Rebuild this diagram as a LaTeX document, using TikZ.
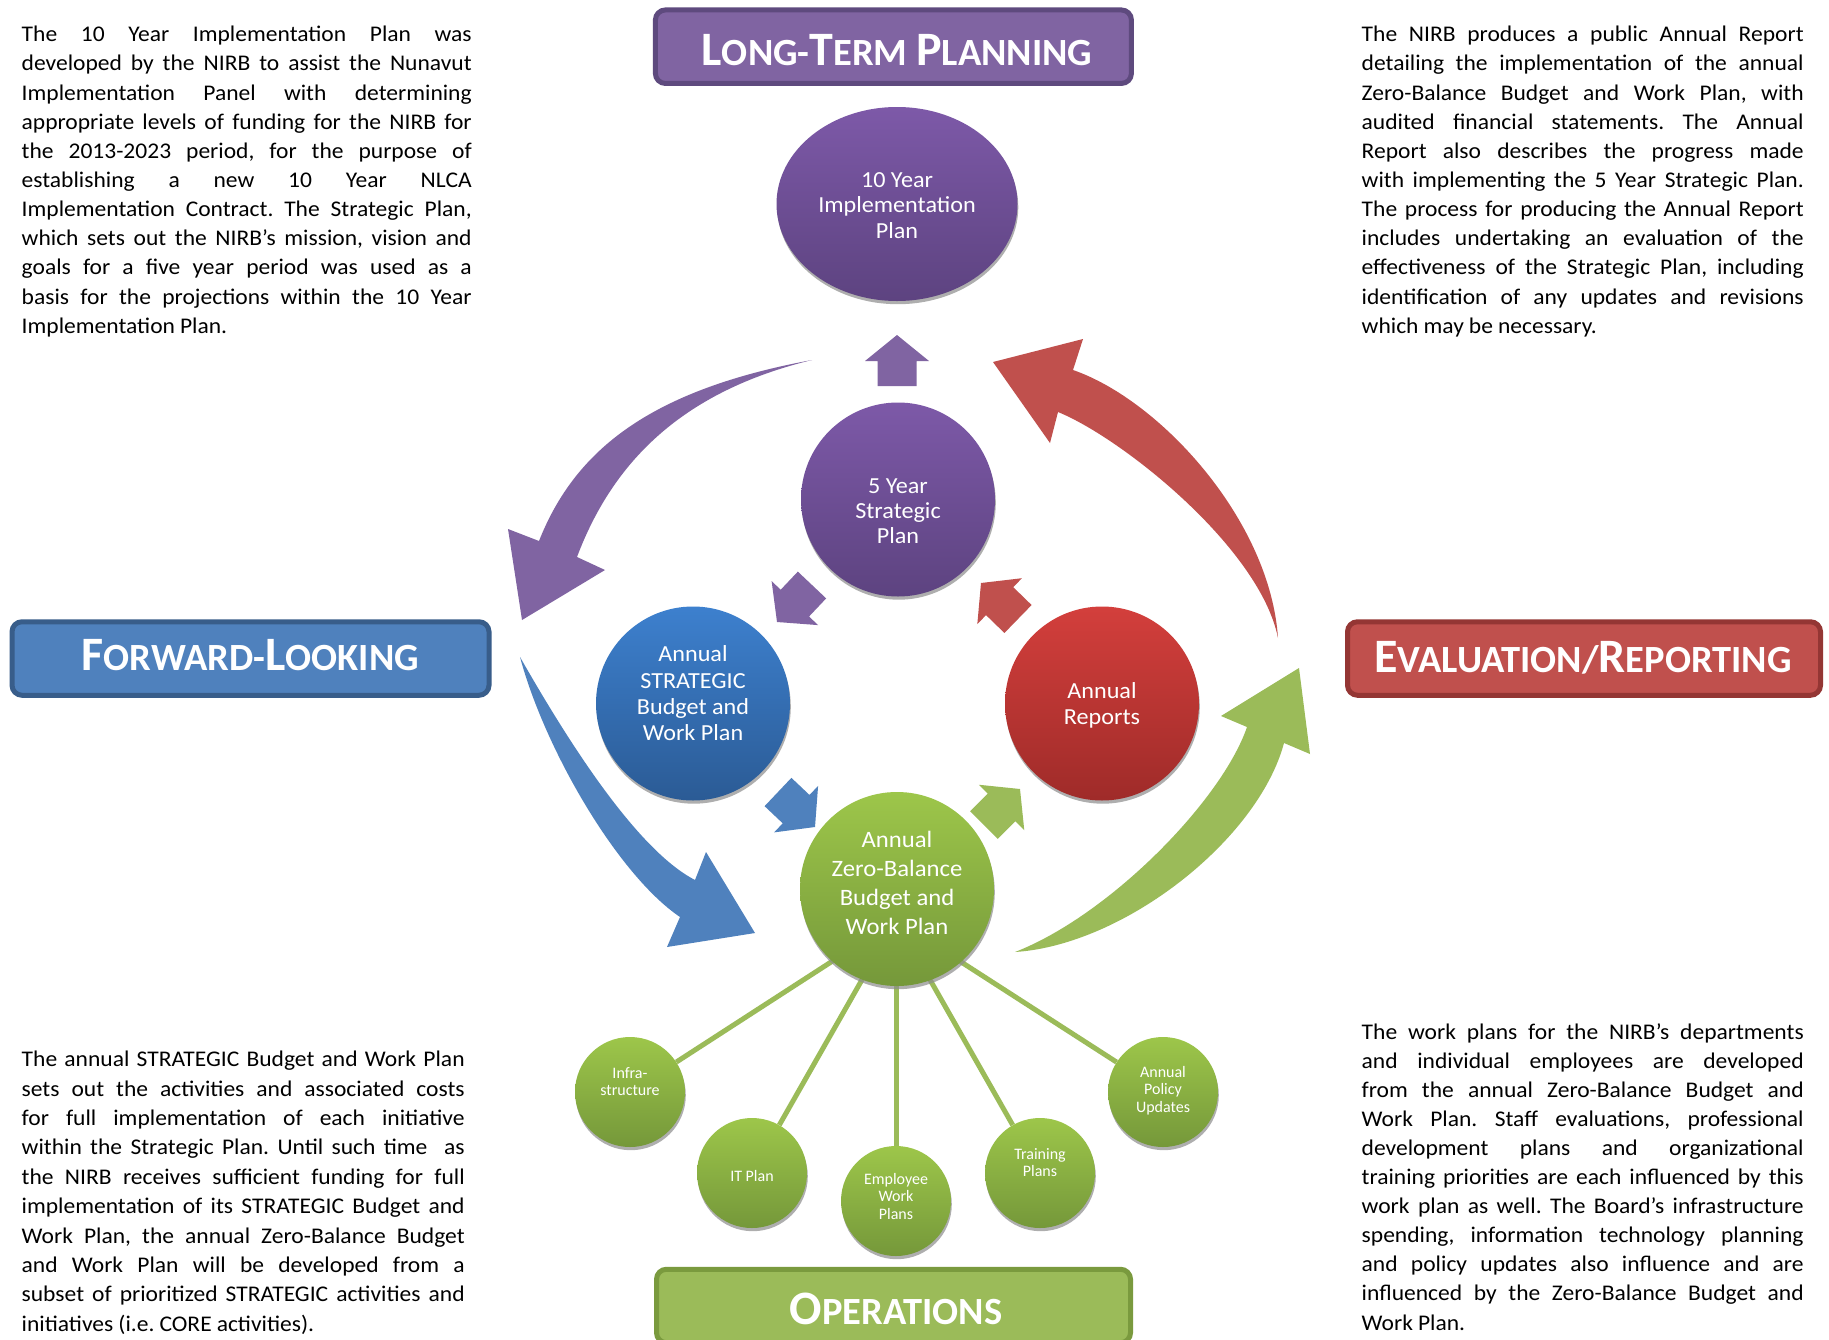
\documentclass[tikz,border=0pt]{standalone}
\usepackage{fontspec}
\setmainfont{Carlito}
\newfontfamily\widef{Carlito}[FakeStretch=1.05]
\usetikzlibrary{shapes.geometric,shadows,calc}
\pgfdeclarelayer{bg}
\pgfsetlayers{bg,main}
\definecolor{purp}{HTML}{8064A2}
\definecolor{purpD}{HTML}{5E4A7E}
\definecolor{blu}{HTML}{4F81BD}
\definecolor{bluD}{HTML}{385D8A}
\definecolor{rd}{HTML}{C0504D}
\definecolor{rdD}{HTML}{943634}
\definecolor{grn}{HTML}{9BBB59}
\definecolor{grnD}{HTML}{7A9A3E}
\definecolor{pT}{HTML}{7D59A8}\definecolor{pB}{HTML}{5D4380}
\definecolor{bT}{HTML}{3D80CE}\definecolor{bB}{HTML}{2B5B95}
\definecolor{rT}{HTML}{D33F3C}\definecolor{rB}{HTML}{9F2B29}
\definecolor{gT}{HTML}{9DC64A}\definecolor{gB}{HTML}{75983A}
\def\pw{450pt}
\newcommand\jl[1]{\hbox to \pw{\spaceskip=0.226em plus 1fil\relax #1}\par}
\newcommand\lastl[1]{\hbox to \pw{\spaceskip=0.226em\relax #1\hfil}}
\newcommand\BC[1]{{\fontsize{48}{48}\selectfont #1}}
\newcommand\SC[1]{{\fontsize{38.5}{48}\selectfont #1}}
\newcommand\blockarr[3]{%
  \coordinate (bah) at ($(#3)!26pt!(#2)$);
  \fill[#1] ($(#2)!19.5pt!90:(#3)$) -- ($(bah)!19.5pt!90:(#3)$) -- ($(bah)!32pt!90:(#3)$) -- (#3)
    -- ($(bah)!32pt!-90:(#3)$) -- ($(bah)!19.5pt!-90:(#3)$) -- ($(#2)!19.5pt!-90:(#3)$) -- cycle;}
\begin{document}
\frenchspacing
\begin{tikzpicture}[x=1pt,y=-1pt,
  hdr/.style={rectangle, rounded corners=10pt, line width=5pt, inner sep=0pt, outer sep=0pt},
  hdrtxt/.style={text=white, inner sep=0pt, anchor=base, font=\fontsize{38.5}{46}\selectfont\bfseries},
  para/.style={inner sep=0pt, outer sep=0pt, anchor=base west, font=\widef\fontsize{22.4}{29.15}\selectfont},
  shad/.style={drop shadow={shadow xshift=0.8pt, shadow yshift=-3.2pt, fill=black!45, opacity=0.7}},
  bigc/.style={circle, minimum size=194pt, inner sep=0pt, shad},
  smallc/.style={circle, minimum size=110pt, inner sep=0pt, top color=gT, bottom color=gB, shad},
  ctext/.style={text=white, align=center, inner sep=0pt, font=\widef\fontsize{23}{26}\selectfont},
  stext/.style={text=white, align=center, inner sep=0pt, font=\fontsize{16}{17.5}\selectfont},
  conn/.style={draw=grn, line width=5pt}]
\useasboundingbox (0,0) rectangle (1829,1339);
\clip (0,0) rectangle (1829,1339);
\begin{pgfonlayer}{bg}
\fill[white] (0,0) rectangle (1829,1339);
\end{pgfonlayer}

% header boxes
\node[hdr, fill=purp, draw=purpD, minimum width=476pt, minimum height=73.5pt] (ltbox) at (893.4,46.7) {};
\node[hdrtxt] (lttxt) at (897,65) {\BC{L}\SC{ONG-}\BC{T}\SC{ERM} \BC{P}\SC{LANNING}};
\node[hdr, fill=blu, draw=bluD, minimum width=477pt, minimum height=73.5pt] (flbox) at (250.5,658.5) {};
\node[hdrtxt] (fltxt) at (250.5,670.7) {\BC{F}\SC{ORWARD-}\BC{L}\SC{OOKING}};
\node[hdr, fill=rd, draw=rdD, minimum width=473pt, minimum height=73.5pt] (erbox) at (1584,658.5) {};
\node[hdrtxt] (ertxt) at (1583,672.7) {\BC{E}\SC{VALUATION/}\BC{R}\SC{EPORTING}};
\node[hdr, fill=grn, draw=grnD, minimum width=474pt, minimum height=73.5pt] (opbox) at (893.5,1306) {};
\node[hdrtxt] (optxt) at (896,1324) {\BC{O}\SC{PERATIONS}};

% paragraphs
\node[para, text width=450pt] (ptl) at (21.7,41.7) {\def\pw{450pt}%
\jl{The 10 Year Implementation Plan was}
\jl{developed by the NIRB to assist the Nunavut}
\jl{Implementation Panel with determining}
\jl{appropriate levels of funding for the NIRB for}
\jl{the 2013-2023 period, for the purpose of}
\jl{establishing a new 10 Year NLCA}
\jl{Implementation Contract. The Strategic Plan,}
\jl{which sets out the NIRB’s mission, vision and}
\jl{goals for a five year period was used as a}
\jl{basis for the projections within the 10 Year}
\lastl{Implementation Plan.}};
\node[para, text width=442pt] (ptr) at (1361.7,41.7) {\def\pw{442pt}%
\jl{The NIRB produces a public Annual Report}
\jl{detailing the implementation of the annual}
\jl{Zero-Balance Budget and Work Plan, with}
\jl{audited financial statements. The Annual}
\jl{Report also describes the progress made}
\jl{with implementing the 5 Year Strategic Plan.}
\jl{The process for producing the Annual Report}
\jl{includes undertaking an evaluation of the}
\jl{effectiveness of the Strategic Plan, including}
\jl{identification of any updates and revisions}
\lastl{which may be necessary.}};
\node[para, text width=443pt, font=\widef\fontsize{22.4}{29.4}\selectfont] (pbl) at (21.7,1066.7) {\def\pw{443pt}%
\jl{The annual STRATEGIC Budget and Work Plan}
\jl{sets out the activities and associated costs}
\jl{for full implementation of each initiative}
\jl{within the Strategic Plan. Until such time\ \ as}
\jl{the NIRB receives sufficient funding for full}
\jl{implementation of its STRATEGIC Budget and}
\jl{Work Plan, the annual Zero-Balance Budget}
\jl{and Work Plan will be developed from a}
\jl{subset of prioritized STRATEGIC activities and}
\lastl{initiatives (i.e. CORE activities).}};
\node[para, text width=442pt, font=\widef\fontsize{22.4}{29.07}\selectfont] (pbr) at (1361.7,1039.3) {\def\pw{442pt}%
\jl{The work plans for the NIRB’s departments}
\jl{and individual employees are developed}
\jl{from the annual Zero-Balance Budget and}
\jl{Work Plan. Staff evaluations, professional}
\jl{development plans and organizational}
\jl{training priorities are each influenced by this}
\jl{work plan as well. The Board’s infrastructure}
\jl{spending, information technology planning}
\jl{and policy updates also influence and are}
\jl{influenced by the Zero-Balance Budget and}
\lastl{Work Plan.}};

% big curved arrows
\fill[purp] (812,360) .. controls (650,390) and (575,450) .. (539,541) -- (508,529) -- (522,620) -- (605,570) -- (577,557) .. controls (612,464) and (680,392) .. (812,360) -- cycle;
\fill[rd] (1278,638) .. controls (1270,520) and (1160,400) .. (1073,370) -- (1083,339) -- (993,362) -- (1050,443) -- (1058,412) .. controls (1122,438) and (1260,548) .. (1278,638) -- cycle;
\fill[blu] (520,657) .. controls (545,750) and (618,875) .. (680,917) -- (667,947) -- (755,933) -- (706,852) -- (695,880) .. controls (633,848) and (560,727) .. (520,657) -- cycle;
\fill[grn] (1015,952) .. controls (1124,945) and (1258,840) .. (1284,743) -- (1310,754) -- (1299,668) -- (1221,716) -- (1247,727) .. controls (1222,800) and (1110,915) .. (1015,952) -- cycle;

% small block arrows
\coordinate (a1t) at (897,386); \coordinate (a1h) at (897,335);
\coordinate (a2t) at (812,585); \coordinate (a2h) at (777,622);
\coordinate (a3t) at (1018,619); \coordinate (a3h) at (981,583);
\coordinate (a4t) at (778,792); \coordinate (a4h) at (815,827);
\coordinate (a5t) at (984,825); \coordinate (a5h) at (1020,789);
\blockarr{purp}{a1t}{a1h}
\blockarr{purp}{a2t}{a2h}
\blockarr{rd}{a3t}{a3h}
\blockarr{blu}{a4t}{a4h}
\blockarr{grn}{a5t}{a5h}

% main circles
\node[ellipse, minimum width=241pt, minimum height=194pt, inner sep=0pt, top color=pT, bottom color=pB, shad] (tenyr) at (897,204) {};
\node[ctext, font=\widef\fontsize{23}{25.7}\selectfont] (tenyrt) at (897,205.5) {10 Year\\Implementation\\Plan};
\node[bigc, top color=pT, bottom color=pB] (fiveyr) at (898,499.5) {};
\node[ctext, font=\widef\fontsize{23}{25.3}\selectfont] (fiveyrt) at (898,511) {5 Year\\Strategic\\Plan};
\node[bigc, top color=bT, bottom color=bB] (strat) at (693,703.5) {};
\node[ctext, font=\widef\fontsize{23}{26.3}\selectfont] (stratt) at (693,693.5) {Annual\\STRATEGIC\\Budget and\\Work Plan};
\node[bigc, top color=rT, bottom color=rB] (rep) at (1102,703.5) {};
\node[ctext] (rept) at (1102,705) {Annual\\Reports};
\node[bigc, top color=gT, bottom color=gB] (zb) at (897,889) {};
\node[ctext, font=\widef\fontsize{23.5}{29.2}\selectfont] (zbt) at (897,883) {Annual\\Zero-Balance\\Budget and\\Work Plan};

% small circles
\node[smallc] (infra) at (630,1092) {};
\node[stext] (infrat) at (630,1081.5) {Infra-\\structure};
\node[smallc] (itp) at (752,1173) {};
\node[stext] (itpt) at (752,1176) {IT Plan};
\node[smallc] (emp) at (896,1201) {};
\node[stext] (empt) at (896,1196) {Employee\\Work\\Plans};
\node[smallc] (trn) at (1040,1173) {};
\node[stext] (trnt) at (1040,1162.5) {Training\\Plans};
\node[smallc] (pol) at (1163,1092) {};
\node[stext] (polt) at (1163,1090.5) {Annual\\Policy\\Updates};

% connectors
\coordinate (hub) at (896,920);
\begin{pgfonlayer}{bg}
\foreach \n in {infra,itp,emp,trn,pol} \draw[conn] (hub) -- (\n);
\end{pgfonlayer}
\end{tikzpicture}
\end{document}
